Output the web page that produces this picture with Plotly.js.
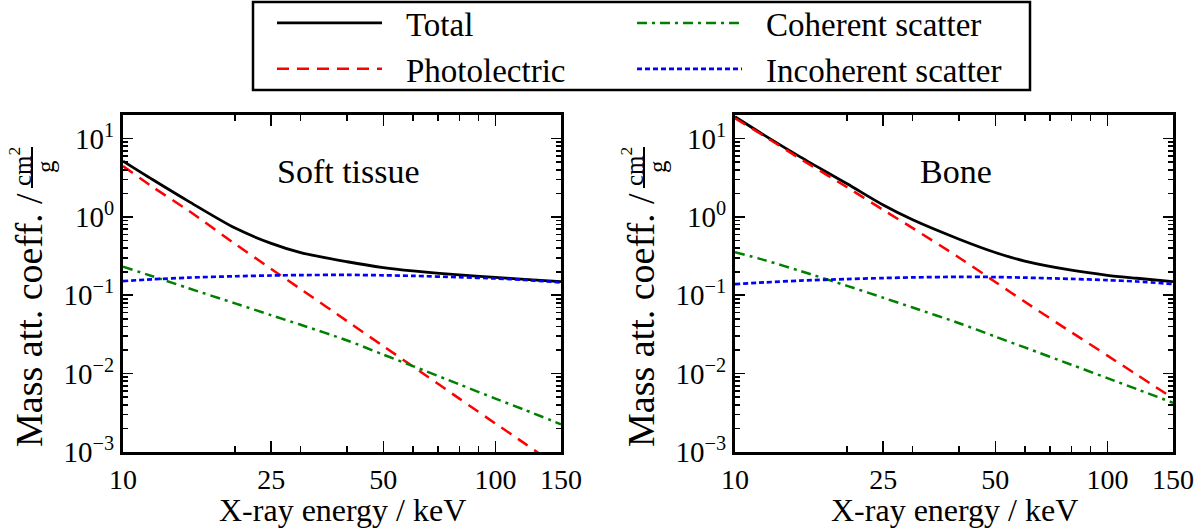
<!DOCTYPE html>
<html>
<head>
<meta charset="utf-8">
<script src="https://cdn.plot.ly/plotly-3.0.1.min.js"></script>
<style>
  html, body { margin: 0; padding: 0; background: #fff; }
  #chart { width: 1201px; height: 531px; }
</style>
</head>
<body>
<div id="chart"></div>
<script>
// Photon energies (keV) at which the attenuation coefficients are tabulated
const energy = [10, 12, 15, 20, 25, 30, 40, 50, 60, 80, 100, 120, 150];

// Soft tissue, mass attenuation coefficients (cm^2/g)
const softTotal      = [5.15, 3.0, 1.58, 0.72, 0.46, 0.35, 0.268, 0.226, 0.205, 0.182, 0.169, 0.160, 0.149];
const softPhoto      = [4.45, 2.42, 1.2, 0.452, 0.217, 0.120, 0.0467, 0.0224, 0.0124, 0.0048, 0.00231, 0.00128, 0.00061];
const softCoherent   = [0.232, 0.175, 0.123, 0.0789, 0.0557, 0.042, 0.0265, 0.0175, 0.0125, 0.0073, 0.0048, 0.00344, 0.00226];
const softIncoherent = [0.152, 0.160, 0.168, 0.175, 0.179, 0.181, 0.182, 0.180, 0.177, 0.170, 0.164, 0.157, 0.146];

// Bone, mass attenuation coefficients (cm^2/g)
const boneTotal      = [19.0, 11.0, 5.8, 2.65, 1.42, 0.92, 0.52, 0.352, 0.273, 0.209, 0.180, 0.165, 0.149];
const bonePhoto      = [18.2, 10.7, 5.5, 2.39, 1.23, 0.72, 0.302, 0.148, 0.0826, 0.0338, 0.0170, 0.00968, 0.00486];
const boneCoherent   = [0.355, 0.281, 0.204, 0.132, 0.0931, 0.0698, 0.0440, 0.0297, 0.0216, 0.0130, 0.00877, 0.00633, 0.00425];
const boneIncoherent = [0.139, 0.146, 0.154, 0.161, 0.166, 0.169, 0.172, 0.171, 0.168, 0.162, 0.156, 0.150, 0.139];

// Axis ticks
const xTickVals  = [10, 25, 50, 100, 150];
const xTickText  = ['10', '25', '50', '100', '150'];
const xMinorVals = [20, 30, 40, 60, 70, 80, 90];
const yTickVals  = [0.001, 0.01, 0.1, 1, 10];
const yTickText  = ['10<sup>−3</sup>', '10<sup>−2</sup>', '10<sup>−1</sup>', '10<sup>0</sup>', '10<sup>1</sup>'];
const yMinorVals = [];
[0.001, 0.01, 0.1, 1, 10].forEach(d => { for (let k = 2; k <= 9; k++) yMinorVals.push(+(k * d).toPrecision(3)); });

// Series names, panel labels and axis titles
const seriesNames = ['Total', 'Photolectric', 'Coherent scatter', 'Incoherent scatter'];
const panelTitles = ['Soft tissue', 'Bone'];
const xTitle = 'X-ray energy / keV';
const yTitle = 'Mass att. coeff. /';
const yUnitTop = 'cm<sup>2</sup>';
const yUnitBottom = 'g';

const FONT = 'Liberation Serif, serif';
const W = 1201, H = 531;
const M = { l: 123, r: 28, t: 115, b: 79, autoexpand: false };
const plotW = W - M.l - M.r, plotH = H - M.t - M.b;
const px = v => (v - M.l) / plotW;      // pixel column -> paper x
const py = v => (H - M.b - v) / plotH;  // pixel row -> paper y

const styles = [
  { color: '#000000', width: 2.8, dash: 'solid' },
  { color: '#ff0000', width: 2.5, dash: '12px,8px' },
  { color: '#008000', width: 2.5, dash: '10px,5px,3px,5px' },
  { color: '#0000ff', width: 2.7, dash: '5px,3px' }
];
const legendOrder = [1, 3, 2, 4]; // row-wise: Total, Coherent / Photolectric, Incoherent

function panelTraces(series, xa, ya, showLegend) {
  return series.map((vals, i) => ({
    x: energy, y: vals, type: 'scatter', mode: 'lines',
    name: seriesNames[i], xaxis: xa, yaxis: ya,
    showlegend: showLegend, legendrank: legendOrder[i],
    line: { color: styles[i].color, width: styles[i].width, dash: styles[i].dash, shape: 'spline', smoothing: 0.8 },
    hoverinfo: 'x+y+name'
  }));
}

const data = [
  ...panelTraces([softTotal, softPhoto, softCoherent, softIncoherent], 'x', 'y', true),
  ...panelTraces([boneTotal, bonePhoto, boneCoherent, boneIncoherent], 'x2', 'y2', false)
];

function xAxis(domain, anchor) {
  return {
    type: 'log', domain: domain, anchor: anchor,
    range: [1, Math.log10(150)],
    tickmode: 'array', tickvals: xTickVals, ticktext: xTickText,
    ticks: 'inside', ticklen: 11, tickwidth: 1.6, tickcolor: '#000',
    minor: { tickmode: 'array', tickvals: xMinorVals, ticks: 'inside', ticklen: 6, tickwidth: 1.6, tickcolor: '#000', showgrid: false },
    showline: true, linecolor: '#000', linewidth: 3, mirror: 'allticks',
    showgrid: false, zeroline: false,
    tickfont: { family: FONT, size: 28, color: '#000' }
  };
}
function yAxis(anchor) {
  return {
    type: 'log', domain: [0, 1], anchor: anchor,
    range: [-3, Math.log10(20)],
    tickmode: 'array', tickvals: yTickVals, ticktext: yTickText,
    ticks: 'inside', ticklen: 10, tickwidth: 1.6, tickcolor: '#000',
    minor: { tickmode: 'array', tickvals: yMinorVals, ticks: 'inside', ticklen: 5, tickwidth: 1.6, tickcolor: '#000', showgrid: false },
    showline: true, linecolor: '#000', linewidth: 3, mirror: 'allticks',
    showgrid: false, zeroline: false,
    tickfont: { family: FONT, size: 29, color: '#000' }
  };
}

const leftDomain  = [0, px(561)];
const rightDomain = [px(735), 1];

const annotations = [];
const shapes = [];
[123, 735].forEach((left, k) => {
  const off = left - 123;
  // rotated y title with a stacked cm^2 / g unit
  annotations.push({
    text: yTitle, textangle: -90, showarrow: false,
    xref: 'paper', yref: 'paper', x: px(29 + off), y: py(320), xanchor: 'center', yanchor: 'middle',
    font: { family: FONT, size: 38, color: '#000' }
  });
  annotations.push({
    text: yUnitTop, textangle: -90, showarrow: false,
    xref: 'paper', yref: 'paper', x: px(20 + off), y: py(167), xanchor: 'center', yanchor: 'middle',
    font: { family: FONT, size: 25, color: '#000' }
  });
  annotations.push({
    text: yUnitBottom, textangle: -90, showarrow: false,
    xref: 'paper', yref: 'paper', x: px(45 + off), y: py(167), xanchor: 'center', yanchor: 'middle',
    font: { family: FONT, size: 25, color: '#000' }
  });
  shapes.push({
    type: 'line', xref: 'paper', yref: 'paper',
    x0: px(32 + off), x1: px(32 + off), y0: py(147), y1: py(188),
    line: { color: '#000', width: 2 }
  });
  // x title under each panel
  annotations.push({
    text: xTitle, showarrow: false,
    xref: 'paper', yref: 'paper', x: px(342 + off), y: py(510), xanchor: 'center', yanchor: 'middle',
    font: { family: FONT, size: 32, color: '#000' }
  });
  // panel label
  annotations.push({
    text: panelTitles[k], showarrow: false, xref: 'paper', yref: 'paper',
    x: px(k === 0 ? 348 : 956), y: py(171), xanchor: 'center', yanchor: 'middle',
    font: { family: FONT, size: 34, color: '#000' }
  });
});

// Frame around the legend
shapes.push({
  type: 'rect', xref: 'paper', yref: 'paper',
  x0: px(253), x1: px(1030), y0: py(2), y1: py(90),
  line: { color: '#000', width: 2.5 }, fillcolor: 'rgba(0,0,0,0)', layer: 'above'
});

const layout = {
  width: W, height: H,
  margin: M,
  paper_bgcolor: '#fff', plot_bgcolor: '#fff',
  font: { family: FONT, color: '#000' },
  xaxis: xAxis(leftDomain, 'y'),
  yaxis: yAxis('x'),
  xaxis2: xAxis(rightDomain, 'y2'),
  yaxis2: yAxis('x2'),
  showlegend: true,
  legend: {
    orientation: 'h', x: px(272), xanchor: 'left', y: py(-5), yanchor: 'top',
    bgcolor: 'rgba(0,0,0,0)', borderwidth: 0,
    font: { family: FONT, size: 33, color: '#000' },
    itemwidth: 105, entrywidth: 240, traceorder: 'normal', tracegroupgap: 0
  },
  annotations: annotations,
  shapes: shapes
};

Plotly.newPlot('chart', data, layout, { displayModeBar: false, staticPlot: true }).then(gd => {
  // leave a wider gap between each legend key and its label, and let the labels run past the clip box
  gd.querySelectorAll('.legend .scrollbox, .legend').forEach(g => g.removeAttribute('clip-path'));
  gd.querySelectorAll('.legend .legendtext').forEach(t => {
    t.setAttribute('x', (parseFloat(t.getAttribute('x')) || 0) + 19);
  });
});
</script>
</body>
</html>
